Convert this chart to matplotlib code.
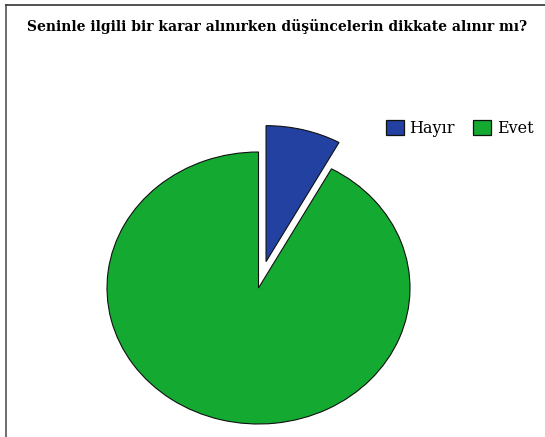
import matplotlib
matplotlib.use("Agg")
import matplotlib.pyplot as plt
from matplotlib.patches import Patch
from matplotlib.lines import Line2D

title = "Seninle ilgili bir karar alınırken düşüncelerin dikkate alınır mı?"
labels = ["Hayır", "Evet"]
values = [8, 92]
colors = ["#2341a0", "#14aa32"]
explode = [0.2, 0.0]

W, H = 545, 437
fig = plt.figure(figsize=(W / 100, H / 100), dpi=100)
fig.patch.set_facecolor("white")

# frame lines (left and top)
fig.add_artist(Line2D([5.5 / W, 5.5 / W], [0, 1 - 4.5 / H], color="#555555", lw=1.2, transform=fig.transFigure))
fig.add_artist(Line2D([5.5 / W, 1], [1 - 4.5 / H, 1 - 4.5 / H], color="#333333", lw=1.2, transform=fig.transFigure))

ax = fig.add_axes([107 / W, 13 / H, 303 / W, 272 / H])
wedges, _ = ax.pie(values, colors=colors, explode=explode, startangle=90, counterclock=False,
                   wedgeprops=dict(edgecolor="#111111", linewidth=0.8, clip_on=False))
ax.set_aspect("auto")
ax.set_xlim(-1, 1)
ax.set_ylim(-1, 1)
ax.axis("off")

fig.text(27 / W, 1 - 26 / H, title, fontsize=10, fontweight="bold", family="DejaVu Serif",
         ha="left", va="center")

handles = [Patch(facecolor=c, edgecolor="#111111", linewidth=0.9) for c in colors]
fig.legend(handles, labels, loc="center left", bbox_to_anchor=(386 / W, 1 - 128.5 / H), ncol=2,
           frameon=False, prop=dict(family="DejaVu Serif", size=11.5),
           handlelength=1.12, handleheight=1.12, handletextpad=0.35, columnspacing=1.15,
           borderpad=0, borderaxespad=0)

fig.savefig("out.png", dpi=100)
